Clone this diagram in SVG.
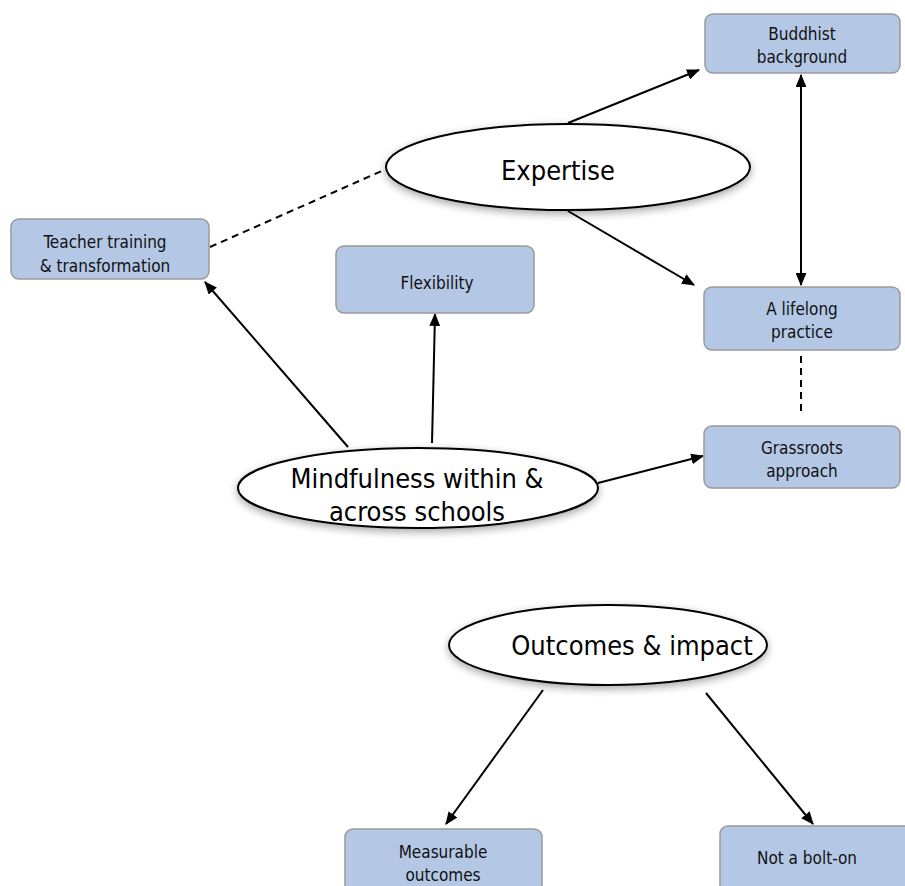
<svg xmlns="http://www.w3.org/2000/svg" width="905" height="886" viewBox="0 0 905 886">
<style>
.box rect{fill:#b4c8e6;stroke:#9a9a9a;stroke-width:1.5}
.box text{font-family:"DejaVu Sans Condensed","DejaVu Sans",sans-serif;font-size:17px;fill:#111;text-anchor:middle}
.ell ellipse{fill:#fff;stroke:#000;stroke-width:2}
.ell text{font-family:"DejaVu Sans Condensed","DejaVu Sans",sans-serif;font-size:27px;fill:#000;text-anchor:middle}
.c line{stroke:#000;stroke-width:2;fill:none}
.c .d{stroke-dasharray:7 5}
</style>
<defs>
<marker id="ah" viewBox="0 0 12 10" refX="11" refY="5" markerWidth="13" markerHeight="11" orient="auto-start-reverse" markerUnits="userSpaceOnUse">
<path d="M0,0 L12,5 L0,10 z" fill="#000"/>
</marker>
<filter id="sh" x="-20%" y="-40%" width="140%" height="180%">
<feGaussianBlur in="SourceAlpha" stdDeviation="4"/>
<feOffset dx="0" dy="3"/>
<feComponentTransfer><feFuncA type="linear" slope="0.35"/></feComponentTransfer>
<feMerge><feMergeNode/><feMergeNode in="SourceGraphic"/></feMerge>
</filter>
</defs>
<rect width="905" height="886" fill="#fff"/>
<g class="c" id="connectors">
<line x1="568" y1="123" x2="699" y2="70" marker-end="url(#ah)"/>
<line x1="568" y1="211" x2="694" y2="285" marker-end="url(#ah)"/>
<line x1="801" y1="75" x2="801" y2="285" marker-start="url(#ah)" marker-end="url(#ah)"/>
<line class="d" x1="210" y1="247" x2="384" y2="170"/>
<line x1="348" y1="447" x2="205" y2="282" marker-end="url(#ah)"/>
<line x1="432" y1="443" x2="435" y2="314" marker-end="url(#ah)"/>
<line x1="598" y1="483" x2="703" y2="456" marker-end="url(#ah)"/>
<line class="d" x1="801" y1="356" x2="801" y2="416"/>
<line x1="543" y1="690" x2="446" y2="824" marker-end="url(#ah)"/>
<line x1="706" y1="693" x2="813" y2="824" marker-end="url(#ah)"/>
</g>
<g id="expertise" class="ell"><ellipse cx="568" cy="167" rx="182" ry="43" filter="url(#sh)"/><text x="558" y="180">Expertise</text></g>
<g id="mindfulness" class="ell"><ellipse cx="418" cy="488" rx="180" ry="40" filter="url(#sh)"/><text x="417" y="488">Mindfulness within &amp;</text><text x="417" y="521">across schools</text></g>
<g id="outcomes" class="ell"><ellipse cx="608" cy="645" rx="159" ry="40" filter="url(#sh)"/><text x="632" y="655">Outcomes &amp; impact</text></g>
<g id="buddhist" class="box"><rect x="705" y="14" width="195" height="59" rx="8"/><text x="802" y="40">Buddhist</text><text x="802" y="63">background</text></g>
<g id="teacher" class="box"><rect x="11" y="219" width="198" height="60" rx="8"/><text x="105" y="248">Teacher training</text><text x="105" y="272">&amp; transformation</text></g>
<g id="flexibility" class="box"><rect x="336" y="246" width="198" height="67" rx="8"/><text x="437" y="289">Flexibility</text></g>
<g id="lifelong" class="box"><rect x="704" y="287" width="196" height="63" rx="8"/><text x="802" y="315">A lifelong</text><text x="802" y="338">practice</text></g>
<g id="grassroots" class="box"><rect x="704" y="426" width="196" height="62" rx="8"/><text x="802" y="454">Grassroots</text><text x="802" y="477">approach</text></g>
<g id="measurable" class="box"><rect x="345" y="829" width="197" height="70" rx="8"/><text x="443" y="858">Measurable</text><text x="443" y="881">outcomes</text></g>
<g id="bolton" class="box"><rect x="720" y="826" width="195" height="70" rx="8"/><text x="807" y="864">Not a bolt-on</text></g>
</svg>
